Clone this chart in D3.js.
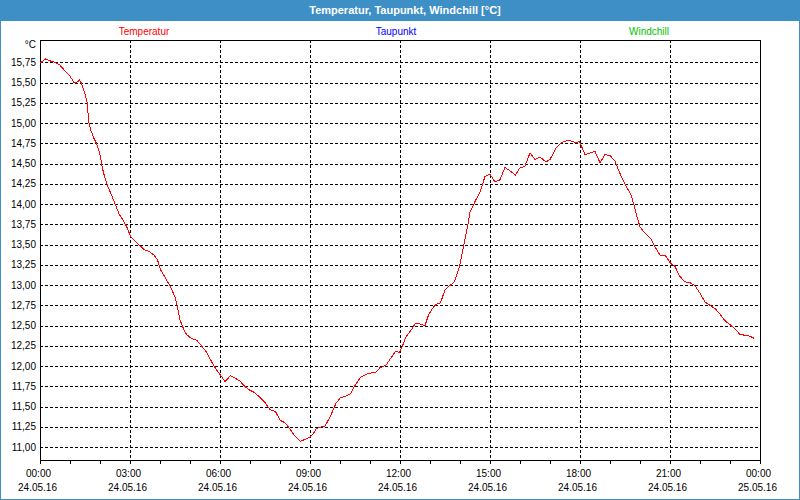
<!DOCTYPE html>
<html>
<head>
<meta charset="utf-8">
<script src="https://cdn.jsdelivr.net/npm/d3@7"></script>
<style>
  body { margin: 0; background: #fff; }
  svg { display: block; font-family: "Liberation Sans", Arial, sans-serif; }
</style>
</head>
<body>
<div id="chart"></div>
<script>
// minutes since 24.05.16 00:00 and temperature in °C
var minutes = [0, 11, 19, 29, 39, 49, 59, 68, 73, 79, 83, 89, 94, 96, 98, 101, 108, 115, 121, 125,
  129, 135, 143, 151, 158, 168, 175, 181, 191, 199, 208, 219, 228, 235, 241, 261, 270, 275, 280, 287,
  293, 303, 313, 323, 332, 340, 349, 357, 363, 370, 381, 390, 399, 408, 417, 430, 440, 450, 460, 471,
  480, 490, 499, 508, 521, 532, 540, 547, 553, 570, 580, 592, 601, 612, 621, 630, 641, 657, 671, 680,
  692, 703, 711, 719, 725, 732, 743, 751, 760, 770, 777, 787, 792, 801, 810, 819, 829, 833, 839, 847,
  855, 860, 870, 880, 890, 900, 910, 920, 930, 940, 951, 959, 970, 980, 990, 1000, 1012, 1020, 1032, 1043,
  1053, 1061, 1070, 1079, 1090, 1100, 1110, 1120, 1130, 1140, 1150, 1157, 1167, 1175, 1181, 1187, 1193, 1200, 1207, 1215,
  1223, 1230, 1240, 1250, 1261, 1270, 1279, 1290, 1300, 1310, 1320, 1330, 1340, 1350, 1360, 1370, 1380, 1390, 1400, 1410,
  1419, 1429];
var temperatur = [15.74, 15.79, 15.77, 15.75, 15.72, 15.65, 15.59, 15.50, 15.50, 15.53, 15.49, 15.38, 15.26, 15.12, 15.00, 14.92, 14.81, 14.72, 14.58, 14.44,
  14.34, 14.23, 14.11, 13.99, 13.88, 13.78, 13.70, 13.60, 13.54, 13.49, 13.44, 13.41, 13.37, 13.31, 13.19, 12.98, 12.85, 12.73, 12.57, 12.46,
  12.39, 12.34, 12.32, 12.25, 12.18, 12.09, 11.99, 11.92, 11.87, 11.81, 11.88, 11.85, 11.82, 11.76, 11.71, 11.67, 11.61, 11.55, 11.46, 11.44,
  11.33, 11.30, 11.23, 11.15, 11.07, 11.10, 11.12, 11.17, 11.23, 11.26, 11.37, 11.54, 11.61, 11.63, 11.66, 11.76, 11.86, 11.91, 11.92, 11.98,
  12.01, 12.11, 12.18, 12.17, 12.25, 12.36, 12.45, 12.53, 12.52, 12.50, 12.63, 12.73, 12.76, 12.78, 12.94, 12.99, 13.04, 13.12, 13.23, 13.47,
  13.72, 13.90, 14.03, 14.15, 14.34, 14.37, 14.27, 14.30, 14.45, 14.41, 14.36, 14.44, 14.47, 14.63, 14.55, 14.58, 14.52, 14.55, 14.69, 14.76,
  14.78, 14.78, 14.76, 14.77, 14.61, 14.63, 14.65, 14.51, 14.61, 14.60, 14.53, 14.42, 14.28, 14.19, 14.13, 14.01, 13.86, 13.72, 13.66, 13.61,
  13.56, 13.47, 13.37, 13.37, 13.27, 13.23, 13.11, 13.04, 13.03, 12.99, 12.90, 12.79, 12.75, 12.71, 12.64, 12.56, 12.51, 12.46, 12.39, 12.38,
  12.37, 12.34];

var seriesNames = ["Temperatur", "Taupunkt", "Windchill"];
var seriesColors = ["#ff0000", "#0000ff", "#00c000"];
var yTicks = [11, 11.25, 11.5, 11.75, 12, 12.25, 12.5, 12.75, 13, 13.25, 13.5, 13.75,
  14, 14.25, 14.5, 14.75, 15, 15.25, 15.5, 15.75];
var titleText = "Temperatur, Taupunkt, Windchill [°C]";

var W = 800, H = 500;
var t0 = new Date(2016, 4, 24, 0, 0), t1 = new Date(2016, 4, 25, 0, 0);

var svg = d3.select("#chart").append("svg")
  .attr("width", W)
  .attr("height", H);

// window frame + title bar
svg.append("rect")
  .attr("x", 0.5).attr("y", 0.5)
  .attr("width", W - 1).attr("height", H - 1)
  .attr("fill", "#fff")
  .attr("stroke", "#3d8fc6");
svg.append("rect")
  .attr("x", 0).attr("y", 0)
  .attr("width", W).attr("height", 21)
  .attr("fill", "#3d8fc6");
svg.append("text")
  .attr("x", 405).attr("y", 14)
  .attr("text-anchor", "middle")
  .attr("fill", "#fff")
  .attr("font-weight", "bold")
  .attr("font-size", 11)
  .text(titleText);

var x = d3.scaleTime().domain([t0, t1]).range([40, 760]);
var y = d3.scaleLinear().domain([10.84, 16.025]).range([460, 40]);

// legend
var legendX = [144, 396, 649];
svg.selectAll(".legend")
  .data(seriesNames)
  .enter().append("text")
  .attr("class", "legend")
  .attr("x", (d, i) => legendX[i])
  .attr("y", 35)
  .attr("text-anchor", "middle")
  .attr("font-size", 10)
  .attr("fill", (d, i) => seriesColors[i])
  .text(d => d);

// grid
var grid = svg.append("g")
  .attr("stroke", "#000")
  .attr("stroke-dasharray", "3,2")
  .attr("shape-rendering", "crispEdges");
grid.selectAll(".hg")
  .data(yTicks)
  .enter().append("line")
  .attr("x1", 40).attr("x2", 760)
  .attr("y1", d => Math.round(y(d)) + 0.5)
  .attr("y2", d => Math.round(y(d)) + 0.5);
grid.selectAll(".vg")
  .data(d3.timeHour.every(3).range(d3.timeHour.offset(t0, 3), t1))
  .enter().append("line")
  .attr("y1", 40).attr("y2", 460)
  .attr("x1", d => Math.round(x(d)) + 0.5)
  .attr("x2", d => Math.round(x(d)) + 0.5);

// y labels
var fmt = d3.format(".2f");
var yAxis = svg.append("g")
  .attr("transform", "translate(40,0)")
  .call(d3.axisLeft(y).tickValues(yTicks).tickSize(0).tickPadding(4)
    .tickFormat(d => fmt(d).replace(".", ",")));
yAxis.select(".domain").remove();
yAxis.selectAll("text")
  .attr("font-family", "Liberation Sans, Arial, sans-serif")
  .attr("font-size", 10)
  .attr("fill", "#000");

svg.append("text")
  .attr("x", 36).attr("y", 48)
  .attr("text-anchor", "end")
  .attr("font-size", 10)
  .text("°C");

// x axis: hourly minor ticks + 3-hourly labelled ticks
var xMinor = svg.append("g")
  .attr("transform", "translate(0,460)")
  .attr("shape-rendering", "crispEdges")
  .call(d3.axisBottom(x).ticks(d3.timeHour.every(1)).tickSize(4).tickFormat(""));
xMinor.select(".domain").remove();

var xAxis = svg.append("g")
  .attr("transform", "translate(0,460)")
  .attr("shape-rendering", "crispEdges")
  .call(d3.axisBottom(x).ticks(d3.timeHour.every(3)).tickSize(4).tickPadding(6)
    .tickFormat(d3.timeFormat("%H:%M")));
xAxis.select(".domain").remove();
xAxis.selectAll("text")
  .attr("x", -2)
  .attr("font-family", "Liberation Sans, Arial, sans-serif")
  .attr("font-size", 10)
  .attr("fill", "#000")
  .each(function(d) {
    d3.select(this.parentNode).append("text")
      .attr("x", -3)
      .attr("y", 31)
      .attr("text-anchor", "middle")
      .attr("font-family", "Liberation Sans, Arial, sans-serif")
      .attr("font-size", 10)
      .attr("fill", "#000")
      .text(d3.timeFormat("%d.%m.%y")(d));
  });

// frame
svg.append("rect")
  .attr("x", 40.5).attr("y", 40.5)
  .attr("width", 720).attr("height", 420)
  .attr("fill", "none")
  .attr("stroke", "#000")
  .attr("shape-rendering", "crispEdges");

// temperature line
var data = minutes.map((m, i) => ({ t: d3.timeMinute.offset(t0, m), v: temperatur[i] }));
svg.append("path")
  .datum(data)
  .attr("fill", "none")
  .attr("stroke", seriesColors[0])
  .attr("stroke-width", 1)
  .attr("shape-rendering", "crispEdges")
  .attr("d", d3.line().x(d => x(d.t)).y(d => y(d.v)));
</script>
</body>
</html>
